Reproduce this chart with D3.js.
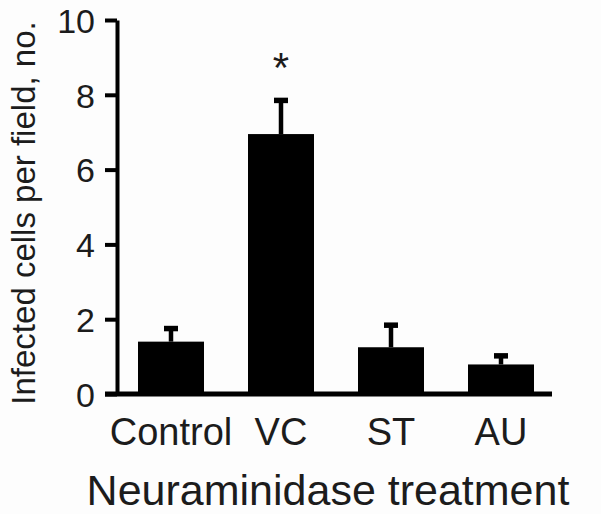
<!DOCTYPE html>
<html>
<head>
<meta charset="utf-8">
<script src="https://cdn.jsdelivr.net/npm/d3@7"></script>
<style>
  html, body { margin: 0; padding: 0; background: #fdfdfd; }
  svg { display: block; }
  text { font-family: "Liberation Sans", Arial, Helvetica, sans-serif; fill: #1c1c1c; }
</style>
</head>
<body>
<svg id="chart" width="601" height="514"></svg>
<script>
const categories = ["Control", "VC", "ST", "AU"];
const means = [1.4, 6.95, 1.25, 0.79];
const errTops = [1.75, 7.85, 1.84, 1.02];
const significant = [false, true, false, false];
const yTicks = [0, 2, 4, 6, 8, 10];
const yLabel = "Infected cells per field, no.";
const xLabel = "Neuraminidase treatment";

const svg = d3.select("#chart");
const W = 601, H = 514;
svg.append("rect").attr("width", W).attr("height", H).attr("fill", "#fdfdfd");

const y = d3.scaleLinear().domain([0, 10]).range([394, 20]);
const x = d3.scaleBand().domain(categories).range([116, 556]).paddingInner(0.4).paddingOuter(0.2);
const axisX = 117;

// bars
svg.append("g").selectAll("rect").data(categories).join("rect")
  .attr("x", d => x(d))
  .attr("width", x.bandwidth())
  .attr("y", (d, i) => y(means[i]))
  .attr("height", (d, i) => y(0) - y(means[i]))
  .attr("fill", "#000");

// error bars
const eg = svg.append("g").attr("stroke", "#000");
categories.forEach((c, i) => {
  const cx = x(c) + x.bandwidth() / 2;
  eg.append("line").attr("x1", cx).attr("x2", cx)
    .attr("y1", y(means[i])).attr("y2", y(errTops[i])).attr("stroke-width", 4.5);
  eg.append("line").attr("x1", cx - 7).attr("x2", cx + 7)
    .attr("y1", y(errTops[i])).attr("y2", y(errTops[i])).attr("stroke-width", 5.5);
  if (significant[i]) {
    svg.append("text").attr("x", cx).attr("y", y(errTops[i]) - 18)
      .attr("text-anchor", "middle").attr("font-size", 42).text("*");
  }
});

// baseline
svg.append("line").attr("x1", 105).attr("x2", 552)
  .attr("y1", y(0)).attr("y2", y(0)).attr("stroke", "#000").attr("stroke-width", 5);

// y axis
const yAxis = d3.axisLeft(y).tickValues(yTicks).tickSize(12).tickSizeOuter(0).tickPadding(10);
const ga = svg.append("g").attr("transform", `translate(${axisX},0)`).call(yAxis);
ga.select(".domain").attr("stroke", "#000").attr("stroke-width", 4);
ga.selectAll(".tick line").attr("stroke", "#000").attr("stroke-width", 4);
ga.selectAll(".tick text").attr("font-size", 34).attr("fill", "#1c1c1c")
  .attr("font-family", "Liberation Sans, Arial, sans-serif").attr("dy", "0.36em");

// category labels
svg.append("g").selectAll("text").data(categories).join("text")
  .attr("x", d => x(d) + x.bandwidth() / 2)
  .attr("y", 445)
  .attr("text-anchor", "middle")
  .attr("font-size", 38)
  .text(d => d);

// axis titles
svg.append("text").attr("x", 328).attr("y", 505).attr("text-anchor", "middle")
  .attr("font-size", 43).text(xLabel);
svg.append("text").attr("transform", "translate(35,213) rotate(-90)")
  .attr("text-anchor", "middle").attr("font-size", 33).text(yLabel);
</script>
</body>
</html>
